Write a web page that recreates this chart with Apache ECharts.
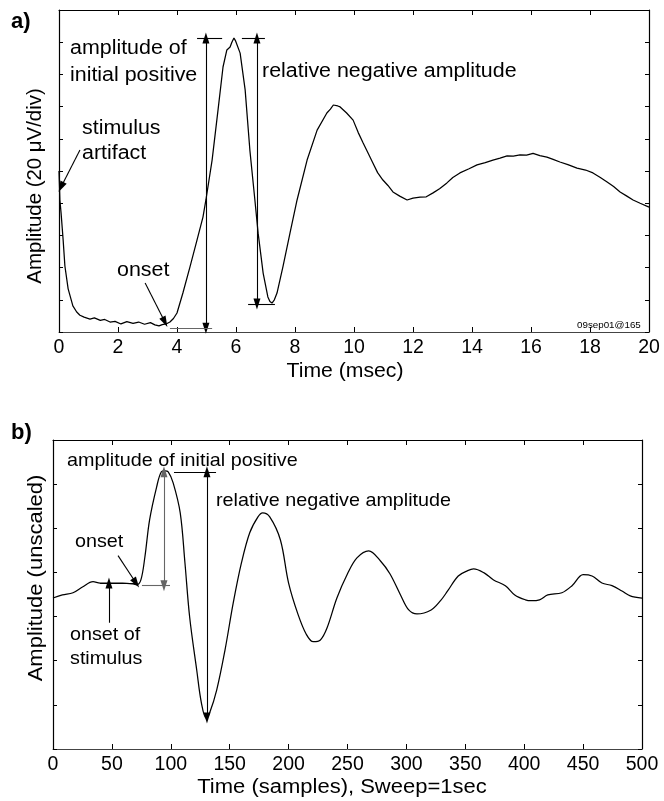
<!DOCTYPE html>
<html>
<head>
<meta charset="utf-8">
<script src="https://cdn.jsdelivr.net/npm/echarts@6/dist/echarts.min.js"></script>
<style>html,body{margin:0;padding:0;background:#fff;}#c{width:664px;height:801px;}</style>
</head>
<body>
<div id="c"></div>
<script>
// ---------- Panel a data (time in msec, amplitude in divisions of 20 µV) ----------
var timeA = [0,0.03,0.07,0.14,0.2,0.31,0.47,0.6,0.71,0.85,1.05,1.2,1.4,1.55,1.73,1.9,2.1,2.3,2.51,2.7,2.9,3.1,3.25,3.39,3.5,3.63,3.76,3.88,4.0,4.2,4.44,4.68,4.88,4.98,5.19,5.39,5.56,5.69,5.8,5.86,5.93,5.98,6.03,6.14,6.31,6.47,6.64,6.75,6.92,7.08,7.15,7.22,7.3,7.39,7.59,7.83,8.07,8.41,8.75,9.08,9.2,9.3,9.36,9.45,9.53,9.75,9.97,10.14,10.31,10.48,10.64,10.8,10.98,11.15,11.32,11.55,11.8,12.0,12.24,12.45,12.68,12.9,13.15,13.35,13.59,13.9,14.17,14.45,14.71,14.95,15.19,15.4,15.63,15.85,16.07,16.3,16.54,16.75,16.98,17.25,17.56,17.85,18.1,18.35,18.58,18.8,19.02,19.25,19.46,19.7,20.0];
var ampA = [5.0,4.1,3.7,2.86,2.05,1.34,0.81,0.62,0.52,0.46,0.40,0.44,0.36,0.39,0.31,0.33,0.25,0.32,0.27,0.31,0.24,0.29,0.22,0.19,0.23,0.25,0.31,0.42,0.59,1.21,2.02,2.86,3.57,4.10,5.34,6.89,8.23,8.76,8.85,9.0,9.13,9.05,9.07,8.66,7.52,5.65,4.10,3.07,1.83,1.09,0.95,0.90,1.0,1.21,2.02,3.07,4.10,5.34,6.27,6.80,6.92,7.05,7.11,7.02,6.99,6.8,6.58,6.2,5.87,5.55,5.25,4.95,4.72,4.55,4.35,4.22,4.10,4.16,4.19,4.2,4.32,4.45,4.63,4.8,4.94,5.07,5.19,5.26,5.34,5.40,5.47,5.46,5.50,5.49,5.55,5.48,5.43,5.36,5.28,5.2,5.09,5.03,4.94,4.8,4.66,4.52,4.35,4.22,4.10,4.0,3.88];

// ---------- Panel b data (samples, unscaled amplitude) ----------
var sampleB = [0,8,17,25,34,40,48,59,68,71,74.6,78,82,88,92,95,97.8,102,108,112,116,122,126,130,133,139,146,153,160,167,174,178,184,193,200,208,215,221,227,232.6,241,250,258,268,278,286,295,302,309,321,329,335,344,352,357,366,374,384,392,401,406,413,420,432,440.6,450,457.6,466,474.5,483,490,500];
var ampB = [3.42,3.49,3.54,3.67,3.79,3.76,3.76,3.76,3.74,3.72,3.83,4.35,5.19,5.94,6.28,6.30,6.28,6.03,5.35,4.22,2.99,1.79,1.04,0.70,0.82,1.34,2.24,3.31,4.22,4.90,5.26,5.35,5.26,4.74,3.76,3.05,2.6,2.43,2.47,2.74,3.42,3.97,4.33,4.49,4.26,3.97,3.49,3.15,3.06,3.15,3.36,3.58,3.92,4.04,4.08,3.99,3.83,3.70,3.49,3.38,3.36,3.38,3.49,3.54,3.70,3.95,3.92,3.76,3.70,3.58,3.47,3.42];

// ---------- axis ticks ----------
var xTicksA = {min:0, max:20, step:2};
var yTicksA = {min:0, max:10, step:1};
var xTicksB = {min:0, max:500, step:50};
var yTicksB = {min:0, max:7, step:1};

// ---------- annotation segments in data coordinates: [x1,y1,x2,y2,startArrow,endArrow,grey] ----------
var annotA = [
  [4.98,9.13,4.98,0.12,1,1,0],
  [4.68,9.13,5.53,9.13,0,0,0],
  [3.76,0.12,5.19,0.12,0,0,1],
  [6.71,9.13,6.71,0.87,1,1,0],
  [6.2,9.13,6.98,9.13,0,0,0],
  [6.41,0.87,7.32,0.87,0,0,0],
  [0.71,5.65,0.07,4.5,0,1,0],
  [2.92,1.52,3.59,0.31,0,1,0]
];
var annotB = [
  [94.2,6.28,94.2,3.70,1,1,1],
  [75.5,3.70,99.3,3.70,0,0,1],
  [130.7,6.28,130.7,0.70,1,1,0],
  [102.7,6.28,138.4,6.28,0,0,0],
  [40,3.76,71.3,3.76,0,0,0],
  [47.5,2.86,47.5,3.76,0,1,0],
  [55.2,4.38,70.5,3.76,0,1,0]
];

var FONT = 'Liberation Sans, Arial, Helvetica, sans-serif';

function pairs(xs, ys){ var o=[]; for(var i=0;i<xs.length;i++) o.push([xs[i], ys[i]]); return o; }
function markData(list){
  return list.map(function(a){
    var col = a[6] ? '#666' : '#000';
    return [
      {coord:[a[0],a[1]], symbol: a[4]?'triangle':'none', symbolSize:[7,11], lineStyle:{color:col,width:1.1,type:'solid'}, itemStyle:{color:col}},
      {coord:[a[2],a[3]], symbol: a[5]?'triangle':'none', symbolSize:[7,11]}
    ];
  });
}

function xAxisDef(grid, t, pos){
  var main = pos === 'bottom';
  return {
    gridIndex:grid, type:'value', position:pos, min:t.min, max:t.max, interval:t.step,
    axisLine:{show:true, onZero:false, lineStyle:{color: main ? '#444' : '#000', width:1}},
    axisTick:{show:true, inside:true, length:5, lineStyle:{color:'#000'}},
    axisLabel:{show:main, fontSize:19.5, color:'#000', fontFamily:FONT, margin:6},
    splitLine:{show:false}
  };
}
function yAxisDef(grid, t, pos){
  return {
    gridIndex:grid, type:'value', position:pos, min:t.min, max:t.max, interval:t.step,
    axisLine:{show:true, onZero:false, lineStyle:{color:'#000', width:1.2}},
    axisTick:{show:true, inside:true, length:4, lineStyle:{color:'#000'}},
    axisLabel:{show:false},
    splitLine:{show:false}
  };
}

function txt(x, y, s, size, sx, weight){
  return {type:'text', x:x, y:y, scaleX:sx||1, silent:true,
    style:{text:s, fill:'#000', font:(weight||'normal')+' '+size+'px '+FONT,
           textAlign:'left', align:'left', textVerticalAlign:'top', verticalAlign:'top'}};
}
function ctxt(x, y, s, size, sx, rot){
  return {type:'text', x:x, y:y, scaleX:sx||1, rotation:rot||0, silent:true,
    style:{text:s, fill:'#000', font:'normal '+size+'px '+FONT,
           textAlign:'center', align:'center', textVerticalAlign:'middle', verticalAlign:'middle'}};
}

var chart = echarts.init(document.getElementById('c'), null, {renderer:'canvas'});

chart.setOption({
  animation:false,
  backgroundColor:'#fff',
  grid:[
    {left:59, top:10, right:15, height:322},
    {left:53, top:440, right:22, height:309}
  ],
  xAxis:[
    xAxisDef(0, xTicksA, 'bottom'),
    xAxisDef(0, xTicksA, 'top'),
    xAxisDef(1, xTicksB, 'bottom'),
    xAxisDef(1, xTicksB, 'top')
  ],
  yAxis:[
    yAxisDef(0, yTicksA, 'left'),
    yAxisDef(0, yTicksA, 'right'),
    yAxisDef(1, yTicksB, 'left'),
    yAxisDef(1, yTicksB, 'right')
  ],
  series:[
    {type:'line', xAxisIndex:0, yAxisIndex:0, data:pairs(timeA, ampA), showSymbol:false, symbol:'none',
     lineStyle:{color:'#000', width:1.25}, z:3,
     markLine:{silent:true, animation:false, label:{show:false}, symbol:['none','none'], data:markData(annotA)}},
    {type:'line', xAxisIndex:2, yAxisIndex:2, data:pairs(sampleB, ampB), showSymbol:false, symbol:'none', smooth:0.35,
     lineStyle:{color:'#000', width:1.25}, z:3,
     markLine:{silent:true, animation:false, label:{show:false}, symbol:['none','none'], data:markData(annotB)}}
  ],
  graphic:[
    txt(11, 11, 'a)', 22, 1, 'bold'),
    txt(11, 422, 'b)', 22, 1, 'bold'),
    // panel a annotations
    txt(70, 38, 'amplitude of', 20, 1.07),
    txt(70, 65, 'initial positive', 20, 1.07),
    txt(262, 61, 'relative negative amplitude', 20, 1.07),
    txt(82, 118, 'stimulus', 20, 1.07),
    txt(82, 143, 'artifact', 20, 1.07),
    txt(117, 260, 'onset', 20, 1.07),
    txt(577, 320, '09sep01@165', 9.5, 1.03),
    // panel b annotations
    txt(67, 451, 'amplitude of initial positive', 19, 1.04),
    txt(216, 491, 'relative negative amplitude', 19, 1.04),
    txt(75, 532, 'onset', 19, 1.04),
    txt(70, 625, 'onset of', 19, 1.04),
    txt(70, 649, 'stimulus', 19, 1.04),
    // axis titles
    ctxt(345, 371, 'Time (msec)', 20, 1.06, 0),
    ctxt(342, 787, 'Time (samples), Sweep=1sec', 20, 1.1, 0),
    ctxt(35, 186, 'Amplitude (20 \u03bcV/div)', 20, 1.02, Math.PI/2),
    ctxt(36, 578, 'Amplitude (unscaled)', 20, 1.1, Math.PI/2)
  ]
});
</script>
</body>
</html>
